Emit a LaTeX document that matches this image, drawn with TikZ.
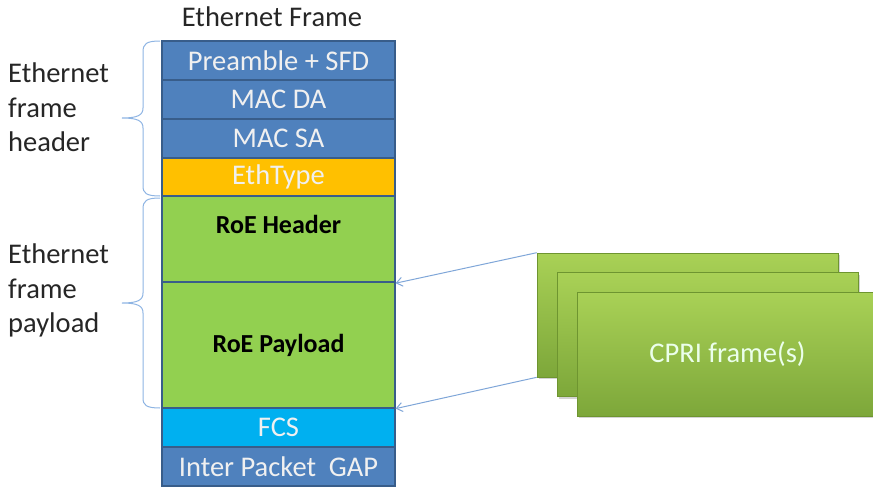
\documentclass[tikz,border=0pt]{standalone}
\usepackage{fontspec}
\setmainfont{Carlito}
\usetikzlibrary{arrows.meta,shadows}
\definecolor{frameblue}{HTML}{4F81BD}
\definecolor{frameedge}{HTML}{385D8A}
\definecolor{ethyellow}{HTML}{FFC000}
\definecolor{roegreen}{HTML}{92D050}
\definecolor{fcscyan}{HTML}{00B0F0}
\definecolor{bracecol}{HTML}{8EB4E3}
\definecolor{arrowcol}{HTML}{7FA6D8}
\definecolor{cpritop}{HTML}{A9D156}
\definecolor{cpribot}{HTML}{7DA73A}
\definecolor{cpriedge}{HTML}{6E9530}
\tikzset{
  big/.style={font=\fontsize{28.5}{34}\selectfont},
  field/.style={draw=frameedge, line width=1.2pt, minimum width=233pt, inner sep=0pt,
    big, text=white!94!black},
  roefield/.style={field, fill=roegreen, text=black, font=\fontsize{26}{30}\selectfont\bfseries},
  sidelabel/.style={align=left, anchor=north west, inner sep=0pt,
    font=\fontsize{28.5}{34.5}\selectfont, text=black!85},
  cpribox/.style={draw=cpriedge, line width=0.6pt, top color=cpritop, bottom color=cpribot,
    minimum width=301pt, minimum height=124pt, inner sep=0pt,
    drop shadow={shadow xshift=2pt, shadow yshift=-2pt, opacity=0.35}},
  bracepath/.style={draw=bracecol, line width=1pt},
  feed/.style={draw=arrowcol, line width=1pt, -{Straight Barb[length=6pt,width=9pt]}}
}
\begin{document}
\begin{tikzpicture}[x=1pt,y=-1pt]
\useasboundingbox (0,0) rectangle (873,490);

% title
\node[big, text=black!85] (title) at (272,17) {Ethernet Frame};

% frame fields, top to bottom
\node[field, fill=frameblue, minimum height=39pt] (pre) at (278.5,60.5) {Preamble + SFD};
\node[field, fill=frameblue, minimum height=39pt] (da)  at (278.5,99.5) {MAC DA};
\node[field, fill=frameblue, minimum height=39pt] (sa)  at (278.5,138.5) {MAC SA};
\node[field, fill=ethyellow, minimum height=38pt] (eth) at (278.5,177) {EthType};
\node[roefield, minimum height=86pt, anchor=north] (roeh) at (278.5,196) {};
\node[font=\fontsize{26}{30}\selectfont\bfseries] (roehtext) at (278.5,224) {RoE Header};
\node[roefield, minimum height=126pt] (roep) at (278.5,345) {RoE Payload};
\node[field, fill=fcscyan, minimum height=39pt] (fcs) at (278.5,427.5) {FCS};
\node[field, fill=frameblue, minimum height=39pt] (ipg) at (278.5,466.5) {Inter Packet\ \ GAP};

% side labels
\node[sidelabel] (hdrlabel) at (8,63) {Ethernet\\frame\\header};
\node[sidelabel] (pldlabel) at (8,244) {Ethernet\\frame\\payload};

% braces
\draw[bracepath] (160,41) .. controls (146,41) and (143,44) .. (143,52)
  -- (143,108) .. controls (143,115) and (138,118) .. (122,118)
  .. controls (138,118) and (143,121) .. (143,128)
  -- (143,186) .. controls (143,193) and (146,196) .. (160,196);
\draw[bracepath] (160,198) .. controls (146,198) and (143,201) .. (143,209)
  -- (143,293) .. controls (143,300) and (138,303) .. (122,303)
  .. controls (138,303) and (143,306) .. (143,313)
  -- (143,398) .. controls (143,405) and (146,408) .. (160,408);

% CPRI frames, back to front
\node[cpribox] (c1) at (687.5,315) {};
\node[cpribox] (c2) at (707.5,334.5) {};
\node[cpribox, big, text=white!92!green] (c3) at (727.5,354) {CPRI frame(s)};

% mapping arrows
\draw[feed] (c1.north west) -- (roeh.south east);
\draw[feed] (c1.south west) -- (roep.south east);
\end{tikzpicture}
\end{document}
